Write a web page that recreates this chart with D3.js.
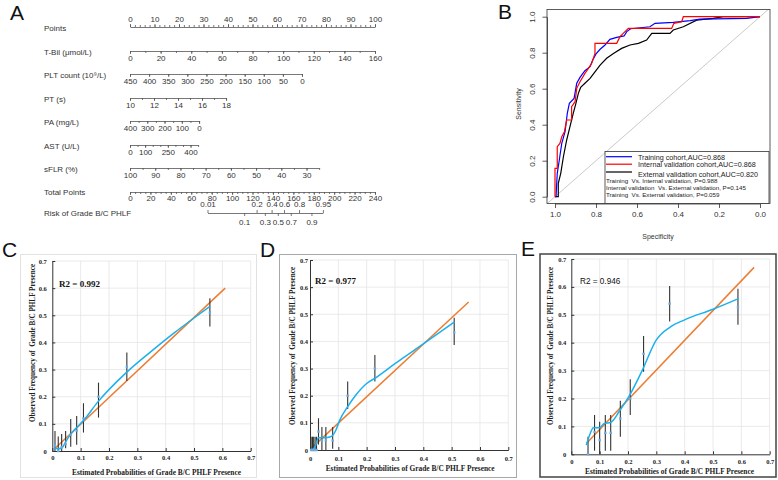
<!DOCTYPE html>
<html><head><meta charset="utf-8">
<script src="https://cdn.jsdelivr.net/npm/d3@7"></script>
<style>body{margin:0;background:#fff}svg{display:block}</style>
</head><body>
<svg id="fig" width="778" height="480"></svg>
<script>
// ================= DATA =================
// Panel A : nomogram
const nomoNames = ["Points", "T-Bil (μmol/L)", "PLT count (10⁹/L)", "PT (s)", "PA (mg/L)", "AST (U/L)", "sFLR (%)"];
const nomoValueRanges = [[0, 100], [0, 160], [450, 0], [10, 18], [400, 0], [0, 450], [100, 25]];
const nomoPointRanges = [[0, 100], [0, 100], [0, 70.2], [0, 39.2], [0, 28.2], [0, 27.8], [0, 77.2]];
const nomoLabels = [
  [0, 10, 20, 30, 40, 50, 60, 70, 80, 90, 100],
  [0, 20, 40, 60, 80, 100, 120, 140, 160],
  [450, 400, 350, 300, 250, 200, 150, 100, 50, 0],
  [10, 12, 14, 16, 18],
  [400, 300, 200, 100, 0],
  [0, 100, 250, 400],
  [100, 90, 80, 70, 60, 50, 40, 30]
];
const nomoMinorStep = [2, 10, 50, 1, 50, 50, 5];
const totalPointsLabels = [0, 20, 40, 60, 80, 100, 120, 140, 160, 180, 200, 220, 240];
const riskLabelsAbove = [0.01, 0.2, 0.4, 0.6, 0.8, 0.95];
const riskLabelsBelow = [0.1, 0.3, 0.5, 0.7, 0.9];
const riskIntercept = -9.658;   // logit = intercept + slope * total points
const riskSlope = 0.0667;

// Panel B : ROC curves (specificity, sensitivity)
const trainSpec = [1, 0.995, 0.989, 0.979, 0.967, 0.951, 0.940, 0.930, 0.907, 0.894, 0.878, 0.854, 0.829, 0.816, 0.800, 0.780, 0.756, 0.732, 0.699, 0.663, 0.650, 0.631, 0.537, 0.512, 0.423, 0.341, 0.293, 0.065, 0];
const trainSens = [0, 0, 0.130, 0.204, 0.296, 0.361, 0.463, 0.519, 0.546, 0.630, 0.663, 0.700, 0.722, 0.759, 0.793, 0.819, 0.843, 0.874, 0.885, 0.893, 0.917, 0.933, 0.944, 0.963, 0.969, 0.978, 0.987, 0.991, 1];
const intSpec = [1, 1, 0.989, 0.989, 0.976, 0.967, 0.954, 0.943, 0.919, 0.919, 0.902, 0.894, 0.878, 0.854, 0.837, 0.821, 0.805, 0.805, 0.699, 0.683, 0.667, 0.642, 0.431, 0.420, 0.382, 0.374, 0];
const intSens = [0, 0.157, 0.157, 0.278, 0.296, 0.333, 0.361, 0.426, 0.426, 0.500, 0.528, 0.602, 0.639, 0.685, 0.713, 0.741, 0.796, 0.852, 0.852, 0.889, 0.907, 0.935, 0.935, 0.963, 0.972, 1, 1];
const extSpec = [1, 0.984, 0.984, 0.972, 0.959, 0.943, 0.927, 0.911, 0.898, 0.886, 0.875, 0.854, 0.829, 0.805, 0.780, 0.748, 0.715, 0.675, 0.634, 0.593, 0.553, 0.528, 0.439, 0.423, 0.374, 0.309, 0.228, 0.179, 0];
const extSens = [0, 0, 0.074, 0.130, 0.222, 0.315, 0.389, 0.463, 0.519, 0.574, 0.607, 0.630, 0.657, 0.694, 0.731, 0.769, 0.796, 0.824, 0.843, 0.852, 0.870, 0.907, 0.907, 0.926, 0.944, 0.981, 0.991, 1, 1];
const rocTicks = [1.0, 0.8, 0.6, 0.4, 0.2, 0.0];
const rocLegend = ["Training cohort,AUC=0.868", "Internal validation cohort,AUC=0.868", "External validation cohort,AUC=0.820"];
const rocTests = ["Training  Vs. Internal validation, P=0.988", "Internal validation  Vs. External validation, P=0.145", "Training  Vs. External validation, P=0.059"];

// Panels C-E : calibration
const calTicks = [0, 0.1, 0.2, 0.3, 0.4, 0.5, 0.6, 0.7];
const calR2 = ["R2 = 0.992", "R2 = 0.977", "R2 = 0.946"];

const calCFitX = [0.01, 0.61], calCFitY = [0.01, 0.60];
const calCCurveX = [0.006, 0.02, 0.035, 0.045, 0.06, 0.08, 0.11, 0.16, 0.26, 0.35, 0.43, 0.5, 0.555];
const calCCurveY = [0.012, 0.008, 0.012, 0.03, 0.055, 0.08, 0.112, 0.18, 0.288, 0.368, 0.435, 0.49, 0.532];
const calCObsX = [0.0095, 0.021, 0.033, 0.047, 0.065, 0.086, 0.11, 0.163, 0.263, 0.556];
const calCObsY = [0.02, 0.0, 0.015, 0.025, 0.06, 0.075, 0.12, 0.2, 0.31, 0.51];
const calCLow = [0.0, 0.0, 0.0, 0.01, 0.016, 0.023, 0.068, 0.123, 0.258, 0.459];
const calCHigh = [0.074, 0.053, 0.063, 0.074, 0.118, 0.129, 0.176, 0.252, 0.363, 0.563];

const calDFitX = [0.006, 0.56], calDFitY = [0.008, 0.545];
const calDCurveX = [0.006, 0.018, 0.03, 0.05, 0.075, 0.09, 0.105, 0.133, 0.16, 0.2, 0.23, 0.3, 0.41, 0.51];
const calDCurveY = [0.0, 0.012, 0.045, 0.045, 0.05, 0.07, 0.11, 0.16, 0.2, 0.245, 0.265, 0.318, 0.398, 0.472];
const calDObsX = [0.004, 0.009, 0.013, 0.018, 0.023, 0.03, 0.042, 0.056, 0.08, 0.133, 0.229, 0.509];
const calDObsY = [0, 0, 0, 0, 0, 0.068, 0.035, 0.035, 0.035, 0.2, 0.3, 0.433];
const calDLow = [0, 0, 0, 0, 0, 0.02, 0, 0, 0.005, 0.151, 0.252, 0.387];
const calDHigh = [0.049, 0.049, 0.049, 0.049, 0.049, 0.117, 0.085, 0.085, 0.085, 0.252, 0.35, 0.487];

const calEFitX = [0.053, 0.645], calEFitY = [0.039, 0.670];
const calECurveX = [0.053, 0.065, 0.078, 0.1, 0.115, 0.14, 0.17, 0.205, 0.25, 0.3, 0.35, 0.4, 0.5, 0.59];
const calECurveY = [0.033, 0.07, 0.095, 0.095, 0.11, 0.115, 0.155, 0.21, 0.3, 0.41, 0.457, 0.482, 0.52, 0.558];
const calEObsX = [0.059, 0.082, 0.1, 0.12, 0.139, 0.173, 0.208, 0.255, 0.347, 0.588];
const calEObsY = [0.0, 0.08, 0.051, 0.077, 0.077, 0.128, 0.2, 0.36, 0.54, 0.527];
const calELow = [0, 0.013, 0, 0.013, 0.013, 0.063, 0.141, 0.296, 0.476, 0.464];
const calEHigh = [0.063, 0.141, 0.117, 0.141, 0.141, 0.192, 0.269, 0.424, 0.603, 0.593];

// ================= DRAW =================
const SANS = "'Liberation Sans', Arial, Helvetica, sans-serif";
const SERIF = "'Liberation Serif', 'Times New Roman', serif";
const svg = d3.select("#fig");
svg.append("rect").attr("width", 778).attr("height", 480).attr("fill", "#fff");

// panel letters
[["A", 10, 20], ["B", 498, 18.5], ["C", 2, 257], ["D", 260, 257], ["E", 521, 256]].forEach(([t, x, y]) => {
  svg.append("text").attr("x", x).attr("y", y).attr("font-family", SANS).attr("font-size", 21)
    .attr("fill", "#111").text(t);
});

function styleAxis(g, size, color, stroke) {
  g.attr("font-family", SANS).attr("font-size", size);
  g.selectAll("path,line").attr("stroke", stroke || "#555").attr("stroke-width", 0.8);
  g.selectAll("text").attr("fill", color || "#333");
}

// ---------- Panel A ----------
const NF = 8;
const gA = svg.append("g");
const ptsScale = d3.scaleLinear([0, 100], [130, 375]);
const rowsY = [27, 51, 74, 98, 121, 145, 168];
nomoNames.forEach((name, i) => {
  const y = rowsY[i];
  const sc = d3.scaleLinear(nomoValueRanges[i], nomoPointRanges[i].map(ptsScale));
  const top = i === 0;
  const mk = top ? d3.axisTop : d3.axisBottom;
  const lo = d3.min(nomoValueRanges[i]), hi = d3.max(nomoValueRanges[i]);
  const minor = d3.range(lo, hi + 1e-9, nomoMinorStep[i]);
  gA.append("g").attr("transform", `translate(0,${y})`)
    .call(mk(sc).tickValues(minor).tickSize(2).tickSizeOuter(0).tickFormat(""))
    .call(g => styleAxis(g, NF));
  gA.append("g").attr("transform", `translate(0,${y})`)
    .call(mk(sc).tickValues(nomoLabels[i]).tickSize(3).tickSizeOuter(0).tickPadding(top ? 2 : 1.8))
    .call(g => { g.select(".domain").remove(); styleAxis(g, NF); });
  gA.append("text").attr("x", 44).attr("y", y + 3.5).attr("font-family", SANS).attr("font-size", 8)
    .attr("fill", "#333").text(name);
});
// total points
const totScale = d3.scaleLinear([0, 240], [130, 375]);
gA.append("g").attr("transform", "translate(0,192)")
  .call(d3.axisBottom(totScale).tickValues(d3.range(0, 240.1, 5)).tickSize(2).tickSizeOuter(0).tickFormat(""))
  .call(g => styleAxis(g, NF));
gA.append("g").attr("transform", "translate(0,192)")
  .call(d3.axisBottom(totScale).tickValues(totalPointsLabels).tickSize(3).tickSizeOuter(0).tickPadding(0))
  .call(g => { g.select(".domain").remove(); styleAxis(g, NF); });
gA.append("text").attr("x", 44).attr("y", 194.5).attr("font-family", SANS).attr("font-size", 8)
  .attr("fill", "#333").text("Total Points");
// risk
const logit = p => Math.log(p / (1 - p));
const riskScale = d3.scaleLinear([riskIntercept, riskIntercept + riskSlope * 240], [130, 375]);
const riskAxisScale = d3.scaleLinear().domain([logit(0.01), logit(0.95)]).range([riskScale(logit(0.01)), riskScale(logit(0.95))]);
const rY = 213;
gA.append("g").attr("transform", `translate(0,${rY})`)
  .call(d3.axisTop(riskAxisScale).tickValues(riskLabelsAbove.map(logit)).tickSize(3).tickSizeOuter(0).tickPadding(3.3)
    .tickFormat((d, i) => String(riskLabelsAbove[i])))
  .call(g => styleAxis(g, NF));
gA.append("g").attr("transform", `translate(0,${rY})`)
  .call(d3.axisBottom(riskAxisScale).tickValues(riskLabelsBelow.map(logit)).tickSize(3).tickSizeOuter(0).tickPadding(3)
    .tickFormat((d, i) => String(riskLabelsBelow[i])))
  .call(g => { g.select(".domain").remove(); styleAxis(g, NF); });
gA.append("text").attr("x", 44).attr("y", rY + 3).attr("font-family", SANS).attr("font-size", 8)
  .attr("fill", "#333").text("Risk of Grade B/C PHLF");

// ---------- Panel B ----------
const gB = svg.append("g");
const rx = d3.scaleLinear([1, 0], [555, 760]);
const ry = d3.scaleLinear([0, 1], [196.7, 16.7]);
const fx0 = 547, fx1 = 770, fy0 = 9.5, fy1 = 203.5;
svg.append("clipPath").attr("id", "rocClip").append("rect")
  .attr("x", fx0).attr("y", fy0).attr("width", fx1 - fx0).attr("height", fy1 - fy0);
gB.append("line").attr("clip-path", "url(#rocClip)")
  .attr("x1", rx(1.1)).attr("y1", ry(-0.1)).attr("x2", rx(-0.1)).attr("y2", ry(1.1))
  .attr("stroke", "#bbb").attr("stroke-width", 0.8);
const rocLine = d3.line().x(d => rx(d[0])).y(d => ry(d[1]));
[[extSpec, extSens, "#000"], [trainSpec, trainSens, "#0000ff"], [intSpec, intSens, "#ff0000"]].forEach(([s, e, c]) => {
  gB.append("path").attr("d", rocLine(d3.zip(s, e))).attr("fill", "none").attr("stroke", c)
    .attr("stroke-width", 1.2).attr("clip-path", "url(#rocClip)");
});
gB.append("rect").attr("x", fx0).attr("y", fy0).attr("width", fx1 - fx0).attr("height", fy1 - fy0)
  .attr("fill", "none").attr("stroke", "#333").attr("stroke-width", 0.8);
gB.append("g").attr("transform", `translate(0,${fy1})`)
  .call(d3.axisBottom(rx).tickValues(rocTicks).tickSize(4.5).tickSizeOuter(0).tickPadding(3).tickFormat(d3.format(".1f")))
  .call(g => styleAxis(g, 8, "#333", "#333"));
gB.append("g").attr("transform", `translate(${fx0},0)`)
  .call(d3.axisLeft(ry).tickValues(rocTicks).tickSize(4.5).tickSizeOuter(0).tickFormat(d3.format(".1f")))
  .call(g => {
    styleAxis(g, 8, "#333", "#333");
    g.selectAll("text").attr("x", 0).attr("y", -12).attr("dy", 0).attr("text-anchor", "middle")
      .attr("transform", "rotate(-90)");
  });
gB.append("text").attr("transform", "translate(521,104) rotate(-90)").attr("text-anchor", "middle")
  .attr("font-family", SANS).attr("font-size", 7).attr("fill", "#333").text("Sensitivity");
gB.append("text").attr("x", 658).attr("y", 239).attr("text-anchor", "middle")
  .attr("font-family", SANS).attr("font-size", 7).attr("fill", "#333").text("Specificity");
// legend
gB.append("rect").attr("x", 605).attr("y", 151.5).attr("width", 164).attr("height", 52)
  .attr("fill", "#fff").attr("stroke", "#333").attr("stroke-width", 0.8);
const legY = [156.7, 164.2, 172];
const legTY = [159.5, 167, 177];
const legC = ["#0000ff", "#ff0000", "#000"];
rocLegend.forEach((t, i) => {
  gB.append("line").attr("x1", 606).attr("x2", 632).attr("y1", legY[i]).attr("y2", legY[i])
    .attr("stroke", legC[i]).attr("stroke-width", 1.2);
  gB.append("text").attr("x", 638).attr("y", legTY[i]).attr("font-family", SANS).attr("font-size", 7.2)
    .attr("fill", "#222").text(t);
});
rocTests.forEach((t, i) => {
  gB.append("text").attr("x", 606).attr("y", 183 + i * 7).attr("font-family", SANS).attr("font-size", 6.2)
    .attr("fill", "#222").attr("xml:space", "preserve").style("white-space", "pre").text(t);
});

// ---------- Panels C, D, E ----------
function calPanel(o) {
  const g = svg.append("g");
  g.append("rect").attr("x", o.frame[0]).attr("y", o.frame[1]).attr("width", o.frame[2]).attr("height", o.frame[3])
    .attr("fill", "none").attr("stroke", o.frameColor).attr("stroke-width", o.frameWidth);
  const x = d3.scaleLinear([0, 0.7], [o.x0, o.x1]);
  const y = d3.scaleLinear([0, 0.7], [o.y0, o.y1]);
  // grid
  calTicks.slice(1).forEach(t => {
    g.append("line").attr("x1", x(0)).attr("x2", x(0.7)).attr("y1", y(t)).attr("y2", y(t))
      .attr("stroke", o.grid).attr("stroke-width", 0.8);
    g.append("line").attr("x1", x(t)).attr("x2", x(t)).attr("y1", y(0)).attr("y2", y(0.7))
      .attr("stroke", o.grid).attr("stroke-width", 0.8);
  });
  const fmt = d => d === 0 ? "0" : d.toFixed(1);
  g.append("g").attr("transform", `translate(0,${o.y0})`)
    .call(d3.axisBottom(x).tickValues(calTicks).tickSize(-3).tickSizeOuter(0).tickPadding(o.xPad).tickFormat(fmt))
    .call(a => {
      a.attr("font-family", SERIF).attr("font-size", 6.5).attr("font-weight", "bold");
      a.selectAll("path,line").attr("stroke", "#333").attr("stroke-width", 1);
      a.selectAll("text").attr("fill", "#222");
    });
  g.append("g").attr("transform", `translate(${o.x0},0)`)
    .call(d3.axisLeft(y).tickValues(calTicks).tickSize(-3).tickSizeOuter(0).tickPadding(o.yPad).tickFormat(fmt))
    .call(a => {
      a.attr("font-family", SERIF).attr("font-size", 6.5).attr("font-weight", "bold");
      a.selectAll("path,line").attr("stroke", "#333").attr("stroke-width", 1);
      a.selectAll("text").attr("fill", "#222");
    });
  // ideal/fit line
  const ln = d3.line().x(d => x(d[0])).y(d => y(d[1]));
  g.append("path").attr("d", ln(d3.zip(o.fitX, o.fitY))).attr("fill", "none")
    .attr("stroke", "#ED7D31").attr("stroke-width", 1.5);
  // error bars
  o.obsX.forEach((vx, i) => {
    g.append("line").attr("x1", x(vx)).attr("x2", x(vx)).attr("y1", y(o.low[i])).attr("y2", y(o.high[i]))
      .attr("stroke", "#333").attr("stroke-width", 1.1);
  });
  // smooth curve
  g.append("path").attr("d", ln.curve(d3.curveMonotoneX)(d3.zip(o.curveX, o.curveY))).attr("fill", "none")
    .attr("stroke", "#1BB0EE").attr("stroke-width", 1.5);
  // observed markers
  o.obsX.forEach((vx, i) => {
    g.append("rect").attr("x", x(vx) - 1.2).attr("y", y(o.obsY[i]) - 1.2).attr("width", 2.4).attr("height", 2.4)
      .attr("fill", "#6FA8DC");
  });
  g.append("text").attr("x", o.r2[0]).attr("y", o.r2[1]).attr("font-family", o.r2Font)
    .attr("font-weight", o.r2Weight).attr("font-size", o.r2Size).attr("fill", "#111").text(o.r2Text);
  g.append("text").attr("x", (o.x0 + o.x1) / 2 + o.xtDx).attr("y", o.xtY).attr("text-anchor", "middle")
    .attr("font-family", SERIF).attr("font-weight", "bold").attr("font-size", 7.4).attr("fill", "#222")
    .text("Estimated Probabilities of Grade B/C PHLF Presence");
  g.append("text").attr("transform", `translate(${o.ytX},${o.ytY}) rotate(-90)`).attr("text-anchor", "middle")
    .attr("font-family", SERIF).attr("font-weight", "bold").attr("font-size", 7.2).attr("fill", "#222")
    .attr("xml:space", "preserve").style("white-space", "pre")
    .text("Observed Frequency of  Grade B/C PHLF Presence");
}

calPanel({
  frame: [20.5, 254.5, 236, 223], frameColor: "#e2e2e2", frameWidth: 1,
  x0: 52.3, x1: 250.7, y0: 451, y1: 261, grid: "#e4e4e4", xPad: 4, yPad: 5.5,
  fitX: calCFitX, fitY: calCFitY, curveX: calCCurveX, curveY: calCCurveY,
  obsX: calCObsX, obsY: calCObsY, low: calCLow, high: calCHigh,
  r2: [59, 286.5], r2Text: calR2[0], r2Font: SERIF, r2Weight: "bold", r2Size: 9,
  xtDx: 5, xtY: 474.5, ytX: 35, ytY: 343
});
calPanel({
  frame: [279.5, 254.5, 237, 223], frameColor: "#a8a8a8", frameWidth: 1,
  x0: 310, x1: 508.3, y0: 450, y1: 260, grid: "#e4e4e4", xPad: 6, yPad: 2,
  fitX: calDFitX, fitY: calDFitY, curveX: calDCurveX, curveY: calDCurveY,
  obsX: calDObsX, obsY: calDObsY, low: calDLow, high: calDHigh,
  r2: [315, 284], r2Text: calR2[1], r2Font: SERIF, r2Weight: "bold", r2Size: 9,
  xtDx: 1, xtY: 470.5, ytX: 294.5, ytY: 346
});
calPanel({
  frame: [540, 254, 236, 223], frameColor: "#444", frameWidth: 1.5,
  x0: 571.3, x1: 769.7, y0: 454.3, y1: 259, grid: "#e4e4e4", xPad: 5, yPad: 5,
  fitX: calEFitX, fitY: calEFitY, curveX: calECurveX, curveY: calECurveY,
  obsX: calEObsX, obsY: calEObsY, low: calELow, high: calEHigh,
  r2: [580, 283.5], r2Text: calR2[2], r2Font: SANS, r2Weight: "normal", r2Size: 8.2,
  xtDx: -1, xtY: 474, ytX: 552.5, ytY: 346
});
</script>
</body></html>
